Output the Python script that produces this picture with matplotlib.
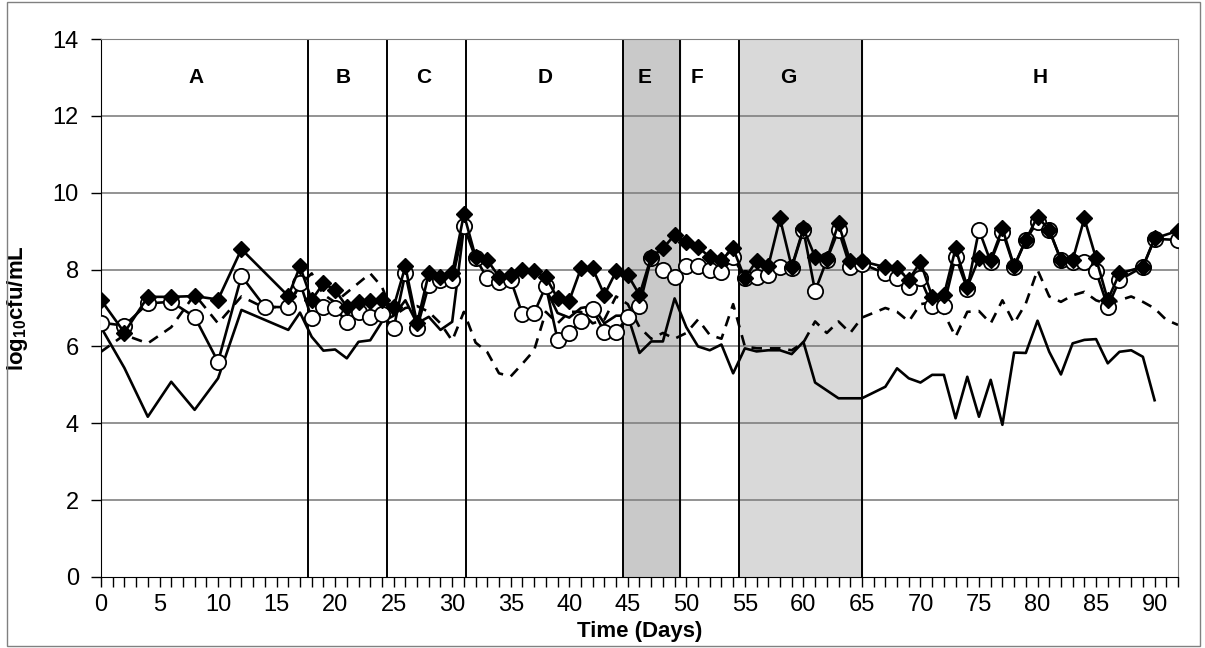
import numpy as np
import matplotlib
matplotlib.use("Agg")
import matplotlib.pyplot as plt
from matplotlib.patches import Rectangle

plt.rcParams['font.family'] = ['Liberation Sans', 'DejaVu Sans']
plt.rcParams['mathtext.fontset'] = 'custom'
plt.rcParams['mathtext.rm'] = 'Liberation Sans'
plt.rcParams['mathtext.bf'] = 'Liberation Sans:bold'

nan = np.nan

# series 1: filled diamonds
diamond_days = [0, 2, 4, 6, 8, 10, 12, 16, 17, 18, 19, 20, 21, 22, 23, 24, 25, 26, 27, 28,
                29, 30, 31, 32, 33, 34, 35, 36, 37, 38, 39, 40, 41, 42, 43, 44, 45, 46, 47, 48,
                49, 50, 51, 52, 53, 54, 55, 56, 57, 58, 59, 60, 61, 62, 63, 64, 65, 67, 68, 69,
                70, 71, 72, 73, 74, 75, 76, 77, 78, 79, 80, 81, 82, 83, 84, 85, 86, 87, 89, 90, 92]
diamond_vals = [7.21, 6.36, 7.29, 7.29, 7.31, 7.22, 8.53, 7.31, 8.08, 7.21, 7.64, 7.47, 7.03, 7.16, 7.18, 7.21, 7.03, 8.08, 6.60, 7.90,
                7.81, 7.90, 9.44, 8.33, 8.25, 7.81, 7.86, 8.00, 7.95, 7.81, 7.25, 7.19, 8.03, 8.03, 7.34, 7.95, 7.86, 7.34, 8.33, 8.55,
                8.90, 8.73, 8.58, 8.33, 8.25, 8.55, 7.77, 8.23, 8.09, 9.33, 8.07, 9.07, 8.33, 8.27, 9.20, 8.22, 8.22, 8.06, 8.04, 7.73,
                8.20, 7.29, 7.33, 8.55, 7.55, 8.29, 8.25, 9.07, 8.09, 8.77, 9.38, 9.03, 8.25, 8.25, 9.33, 8.29, 7.21, 7.90, 8.07, 8.81, 9.01]

# series 2: open circles
circle_days = [0, 2, 4, 6, 8, 10, 12, 14, 16, 17, 18, 19, 20, 21, 22, 23, 24, 25, 26, 27,
               28, 29, 30, 31, 32, 33, 34, 35, 36, 37, 38, 39, 40, 41, 42, 43, 44, 45, 46, 47,
               48, 49, 50, 51, 52, 53, 54, 55, 56, 57, 58, 59, 60, 61, 62, 63, 64, 65, 67, 68,
               69, 70, 71, 72, 73, 74, 75, 76, 77, 78, 79, 80, 81, 82, 83, 84, 85, 86, 87, 89, 90, 92]
circle_vals = [6.62, 6.54, 7.12, 7.16, 6.77, 5.60, 7.83, 7.03, 7.02, 7.66, 6.73, 7.03, 7.00, 6.63, 6.90, 6.77, 6.85, 6.47, 7.90, 6.47,
               7.60, 7.73, 7.72, 9.13, 8.30, 7.77, 7.68, 7.73, 6.84, 6.87, 7.57, 6.18, 6.34, 6.66, 6.97, 6.37, 6.37, 6.77, 7.06, 8.30,
               8.00, 7.81, 8.08, 8.09, 8.00, 7.93, 8.33, 7.77, 7.81, 7.86, 8.07, 8.04, 9.03, 7.44, 8.25, 9.03, 8.06, 8.15, 7.90, 7.77,
               7.55, 7.77, 7.05, 7.06, 8.33, 7.50, 9.03, 8.20, 8.99, 8.07, 8.77, 9.25, 9.03, 8.25, 8.20, 8.20, 7.95, 7.03, 7.73, 8.07, 8.80, 8.77]

# series 3: dashed line
dashed_days = [0, 2, 4, 6, 8, 10, 12, 14, 16, 17, 18, 19, 20, 21, 22, 23, 24, 25, 26, 27,
               28, 29, 30, 31, 32, 33, 34, 35, 36, 37, 38, 39, 40, 41, 42, 43, 44, 45, 46, 47,
               48, 49, 50, 51, 52, 53, 54, 55, 56, 57, 58, 59, 60, 61, 62, 63, 64, 65, 67, 68,
               69, 70, 71, 72, 73, 74, 75, 76, 77, 78, 79, 80, 81, 82, 83, 84, 85, 86, 87, 88,
               89, 90, 91, 92]
dashed_vals = [5.86, 6.30, 6.08, 6.50, 7.35, 6.60, 7.30, 7.00, 7.05, 7.60, 7.90, 7.35, 7.15, 7.40, 7.65, 7.90, 7.55, 6.80, 7.00, 7.05,
               6.90, 6.60, 6.15, 6.90, 6.10, 5.85, 5.30, 5.22, 5.55, 5.90, 6.90, 6.60, 6.90, 6.90, 6.60, 6.70, 7.30, 7.10, 6.50, 6.20,
               6.35, 6.20, 6.35, 6.70, 6.30, 6.20, 7.10, 6.00, 5.95, 5.95, 5.95, 5.90, 6.10, 6.65, 6.35, 6.65, 6.35, 6.75, 7.00, 6.90,
               6.65, 7.10, 7.15, 6.87, 6.25, 6.90, 6.92, 6.60, 7.20, 6.60, 7.12, 7.99, 7.30, 7.16, 7.33, 7.42, 7.20, 7.10, 7.20, 7.30,
               7.16, 6.99, 6.69, 6.56]

# series 4: plain solid line (gap between day 31 and 38)
solid_days = [0, 2, 4, 6, 8, 10, 12, 16, 17, 18, 19, 20, 21, 22, 23, 24, 25, 26, 27, 28,
              29, 30, 31, 34, 38, 39, 40, 41, 42, 43, 44, 45, 46, 47, 48, 49, 50, 51, 52, 53,
              54, 55, 56, 57, 58, 59, 60, 61, 63, 64, 65, 67, 68, 69, 70, 71, 72, 73, 74, 75,
              76, 77, 78, 79, 80, 81, 82, 83, 84, 85, 86, 87, 88, 89, 90]
solid_vals = [6.50, 5.44, 4.17, 5.08, 4.35, 5.17, 6.95, 6.43, 6.88, 6.25, 5.89, 5.92, 5.69, 6.12, 6.16, 6.64, 6.80, 7.20, 6.60, 6.77,
              6.43, 6.64, 9.10, nan, 7.50, 6.87, 6.75, 7.00, 7.05, 6.60, 6.80, 6.80, 5.83, 6.13, 6.13, 7.25, 6.50, 6.00, 5.90, 6.05,
              5.30, 5.95, 5.87, 5.90, 5.90, 5.80, 6.12, 5.06, 4.65, 4.65, 4.65, 4.95, 5.43, 5.17, 5.06, 5.26, 5.26, 4.13, 5.21, 4.17,
              5.13, 3.96, 5.84, 5.83, 6.67, 5.86, 5.27, 6.08, 6.17, 6.19, 5.56, 5.86, 5.90, 5.73, 4.60]

# phase boundaries and labels
phase_lines = [17.7, 24.4, 31.2]
band_dark = (44.6, 49.5)
band_light = (54.5, 65.0)
phase_names = ['A', 'B', 'C', 'D', 'E', 'F', 'G', 'H']
phase_pos = [8.1, 20.7, 27.6, 37.9, 46.4, 50.9, 58.7, 80.2]

fig = plt.figure(figsize=(12.05, 6.48), dpi=100)
ax = fig.add_axes([0.0838, 0.1096, 0.8938, 0.8302])

ax.axvspan(*band_dark, color='#c9c9c9', zorder=0)
ax.axvspan(*band_light, color='#d9d9d9', zorder=0)
for x in phase_lines + list(band_dark) + list(band_light):
    ax.axvline(x, color='black', lw=1.4, zorder=1)

for y in range(2, 15, 2):
    ax.axhline(y, color='#808080', lw=1.2, zorder=0.5)

ax.plot(solid_days, solid_vals, color='black', lw=1.9, zorder=2)
ax.plot(dashed_days, dashed_vals, color='black', lw=1.9, ls=(0, (4, 3)), zorder=2)
ax.plot(circle_days, circle_vals, color='black', lw=1.9, marker='o', ms=11,
        mfc='white', mec='black', mew=1.3, zorder=3)
ax.plot(diamond_days, diamond_vals, color='black', lw=1.9, marker='D', ms=8.5,
        mfc='black', mec='black', zorder=4)

for name, xp in zip(phase_names, phase_pos):
    ax.text(xp, 13.0, name, ha='center', va='center', fontsize=15, fontweight='bold')

ax.set_xlim(0, 92)
ax.set_ylim(0, 14)
ax.set_xticks(range(0, 93))
ax.set_xticklabels([str(d) if d % 5 == 0 else '' for d in range(0, 93)])
ax.set_yticks(range(0, 15, 2))
ax.tick_params(axis='x', direction='out', length=7, width=1, labelsize=17, pad=5)
ax.tick_params(axis='y', direction='out', length=7, width=1, labelsize=17, pad=9)

for s in ['top', 'right']:
    ax.spines[s].set_color('#808080')
ax.spines['left'].set_color('black')
ax.spines['bottom'].set_color('black')

ax.set_xlabel('Time (Days)', fontsize=16, fontweight='bold')
ax.xaxis.set_label_coords(0.5, -0.082)
ax.set_ylabel(r'log$_{\mathbf{10}}$cfu/mL', fontsize=16, fontweight='bold')
ax.yaxis.set_label_coords(-0.066, 0.5)

fig.patches.append(Rectangle((0.006, 0.003), 0.99, 0.994, transform=fig.transFigure,
                             fill=False, edgecolor='#808080', lw=1))

fig.savefig('out.png', dpi=100)
